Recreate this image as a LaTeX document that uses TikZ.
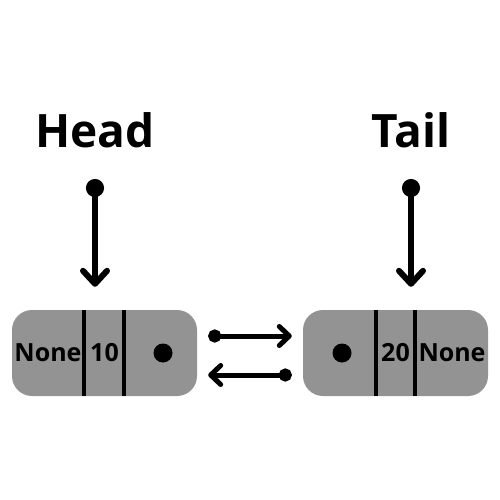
\documentclass[tikz,border=0pt]{standalone}
\usepackage{fontspec}
\setmainfont{Open Sans}
\usetikzlibrary{arrows.meta}
\definecolor{box-gray}{HTML}{939393}
\tikzset{
    list-box/.style = {fill=box-gray, rounded corners=20pt, minimum width=185pt, minimum height=86pt, inner sep=0pt},
    field-text/.style = {font=\fontsize{25}{25}\selectfont\bfseries, inner sep=0pt},
    title-text/.style = {font=\fontsize{46}{46}\selectfont\bfseries, inner sep=0pt},
    field-divider/.style = {line width=3.5pt},
    field-dot/.style = {fill=black, circle, minimum size=19pt, inner sep=0pt},
    pointer-arrow/.style = {line width=6pt, {Circle[length=18pt]}-{Straight Barb[length=13pt, width=24pt, round]}},
    link-arrow/.style = {line width=5pt, {Circle[length=13pt]}-{Straight Barb[length=10pt, width=19pt, round]}},
}

\begin{document}
\begin{tikzpicture}[x=1pt, y=-1pt]
\useasboundingbox (0,0) rectangle (500,500);
% the two list nodes
\node [list-box] (first) at (104.5,353) {};
\node [list-box] (second) at (395.5,353) {};
\draw[field-divider] ([xshift=-20.5pt]first.north) -- ([xshift=-20.5pt]first.south);
\draw[field-divider] ([xshift=19.5pt]first.north) -- ([xshift=19.5pt]first.south);
\draw[field-divider] ([xshift=-19.5pt]second.north) -- ([xshift=-19.5pt]second.south);
\draw[field-divider] ([xshift=19.5pt]second.north) -- ([xshift=19.5pt]second.south);
\node[field-text] (first-prev) at ([xshift=-56.5pt]first.center) {None};
\node[field-text] (first-data) at (first.center) {10};
\node[field-dot] (first-next) at ([xshift=58.5pt]first.center) {};
\node[field-dot] (second-prev) at ([xshift=-53.5pt]second.center) {};
\node[field-text] (second-data) at (second.center) {20};
\node[field-text] (second-next) at ([xshift=56.5pt]second.center) {None};
% head and tail
\node[title-text] (head) at (95,130) {Head};
\node[title-text] (tail) at (411,130) {Tail};
\draw[pointer-arrow] ([yshift=-49pt]head.center) -- ([yshift=23pt]head.center |- first.north);
\draw[pointer-arrow] ([yshift=-49pt]tail.center) -- ([yshift=23pt]tail.center |- second.north);
% links
\draw[link-arrow] ([xshift=11pt, yshift=17pt]first.east) -- ([xshift=-11pt, yshift=17pt]second.west);
\draw[link-arrow] ([xshift=-11pt, yshift=-22pt]second.west) -- ([xshift=11pt, yshift=-22pt]first.east);
\end{tikzpicture}
\end{document}
